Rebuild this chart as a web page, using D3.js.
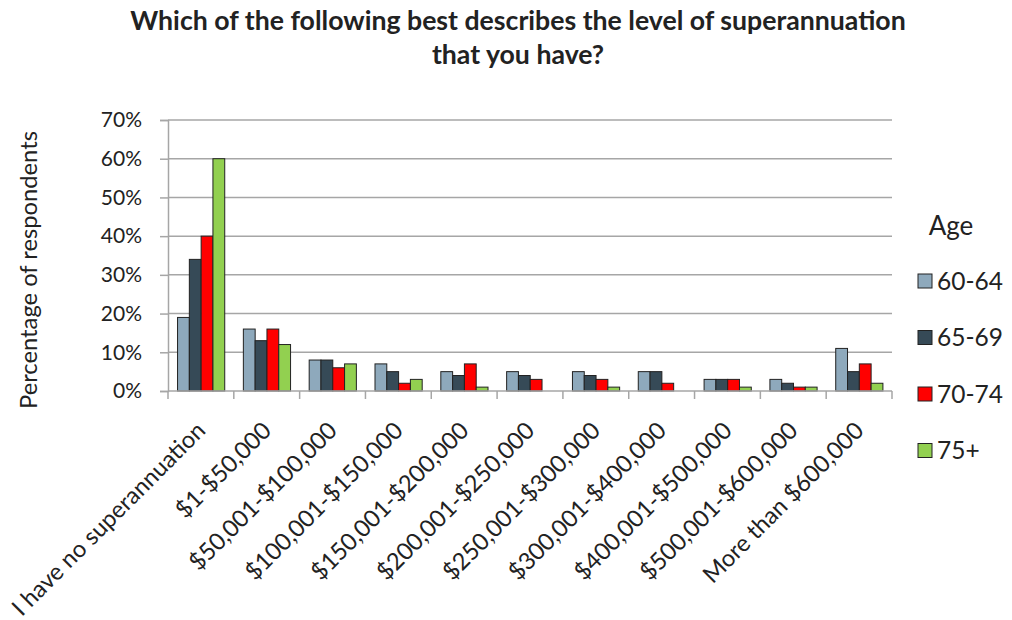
<!DOCTYPE html>
<html>
<head>
<meta charset="utf-8">
<script src="https://cdn.jsdelivr.net/npm/d3@7"></script>
<style>
  html, body { margin: 0; padding: 0; background: #fff; }
  svg { display: block; }
  text { font-family: Lato, "Open Sans", "Liberation Sans", sans-serif; fill: #222; }
</style>
</head>
<body>
<svg id="chart" width="1012" height="620"></svg>
<script>
const categories = [
  "I have no superannuation", "$1-$50,000", "$50,001-$100,000", "$100,001-$150,000",
  "$150,001-$200,000", "$200,001-$250,000", "$250,001-$300,000", "$300,001-$400,000",
  "$400,001-$500,000", "$500,001-$600,000", "More than $600,000"
];
const seriesNames = ["60-64", "65-69", "70-74", "75+"];
const values6064 = [19, 16, 8, 7, 5, 5, 5, 5, 3, 3, 11];
const values6569 = [34, 13, 8, 5, 4, 4, 4, 5, 3, 2, 5];
const values7074 = [40, 16, 6, 2, 7, 3, 3, 2, 3, 1, 7];
const values75p  = [60, 12, 7, 3, 1, 0, 1, 0, 1, 1, 2];
const seriesColors = ["#8EA9BC", "#364A57", "#FF0000", "#92D050"];
const yTicks = [0, 10, 20, 30, 40, 50, 60, 70];
const titleLines = ["Which of the following best describes the level of superannuation", "that you have?"];
const yTitle = "Percentage of respondents";
const legendTitle = "Age";

const allSeries = [values6064, values6569, values7074, values75p];
const svg = d3.select("#chart");

const plot = { left: 168, right: 892, top: 120, bottom: 391 };
const x = d3.scaleBand().domain(categories).range([plot.left, plot.right]).padding(0);
const bw = x.bandwidth();
const xs = d3.scaleBand().domain(seriesNames).range([bw * 0.145, bw * 0.862]).padding(0);
const y = d3.scaleLinear().domain([0, 70]).range([plot.bottom, plot.top]);

// gridlines
svg.append("g").selectAll("line").data(yTicks.filter(d => d > 0)).join("line")
  .attr("x1", plot.left).attr("x2", plot.right)
  .attr("y1", d => y(d)).attr("y2", d => y(d))
  .attr("stroke", "#A6A6A6").attr("stroke-width", 1.5);

// y axis
const yAxis = d3.axisLeft(y).tickValues(yTicks).tickFormat(d => d + "%").tickSize(8).tickPadding(18);
const gy = svg.append("g").attr("transform", `translate(${plot.left},0)`).call(yAxis);
gy.select(".domain").attr("stroke", "#A6A6A6").attr("stroke-width", 1.5);
gy.selectAll(".tick line").attr("stroke", "#A6A6A6").attr("stroke-width", 1.5);
gy.selectAll(".tick text").attr("font-size", 21).attr("fill", "#222")
  .style("font-family", "Lato, 'Open Sans', sans-serif");

// bars
const barData = [];
categories.forEach((c, i) => {
  seriesNames.forEach((s, j) => {
    barData.push({ cat: c, series: s, value: allSeries[j][i], color: seriesColors[j] });
  });
});
svg.append("g").selectAll("rect").data(barData.filter(d => d.value > 0)).join("rect")
  .attr("x", d => x(d.cat) + xs(d.series))
  .attr("width", xs.bandwidth())
  .attr("y", d => y(d.value))
  .attr("height", d => y(0) - y(d.value))
  .attr("fill", d => d.color)
  .attr("stroke", "#222")
  .attr("stroke-width", 1);

// x axis
const gx = svg.append("g").attr("transform", `translate(0,${plot.bottom})`);
gx.append("line").attr("x1", plot.left).attr("x2", plot.right).attr("y1", 0).attr("y2", 0)
  .attr("stroke", "#A6A6A6").attr("stroke-width", 1.5);
const boundaries = categories.map(c => x(c)).concat([plot.right]);
gx.selectAll("line.tk").data(boundaries).join("line").attr("class", "tk")
  .attr("x1", d => d).attr("x2", d => d).attr("y1", 0).attr("y2", 8)
  .attr("stroke", "#A6A6A6").attr("stroke-width", 1.5);

const xl = svg.append("g").selectAll("text").data(categories).join("text")
  .attr("transform", d => `translate(${x(d) + bw / 2 + 6},${plot.bottom + 41}) rotate(-45)`)
  .attr("text-anchor", "end")
  .attr("font-size", 21)
  .text(d => d);
// fit x label size to reference (longest label ~262px)
{
  const n = xl.nodes()[0];
  const w = n.getComputedTextLength();
  const fs = 21 * 262 / w;
  xl.attr("font-size", fs);
}

// y title
const yt = svg.append("text")
  .attr("transform", `translate(37,270) rotate(-90)`)
  .attr("text-anchor", "middle")
  .attr("font-size", 22)
  .text(yTitle);
{
  const w = yt.node().getComputedTextLength();
  yt.attr("font-size", 22 * 278 / w);
}

// title
const tg = svg.append("g");
const t1 = tg.append("text").attr("x", 518).attr("y", 30).attr("text-anchor", "middle")
  .attr("font-weight", "bold").attr("font-size", 20).text(titleLines[0]);
const w1 = t1.node().getComputedTextLength();
const tfs = 20 * 776 / w1;
t1.attr("font-size", tfs);
tg.append("text").attr("x", 518).attr("y", 64).attr("text-anchor", "middle")
  .attr("font-weight", "bold").attr("font-size", tfs).text(titleLines[1]);

// legend
svg.append("text").attr("x", 951).attr("y", 235).attr("text-anchor", "middle")
  .attr("font-size", 26).text(legendTitle);
const lg = svg.append("g").selectAll("g").data(seriesNames).join("g")
  .attr("transform", (d, i) => `translate(918,${281 + i * 56.5})`);
lg.append("rect").attr("x", 0).attr("y", -7).attr("width", 14).attr("height", 14)
  .attr("fill", (d, i) => seriesColors[i]).attr("stroke", "#222").attr("stroke-width", 1);
lg.append("text").attr("x", 19).attr("y", 0).attr("dy", "0.36em")
  .attr("font-size", 24.5).text(d => d);
</script>
</body>
</html>
